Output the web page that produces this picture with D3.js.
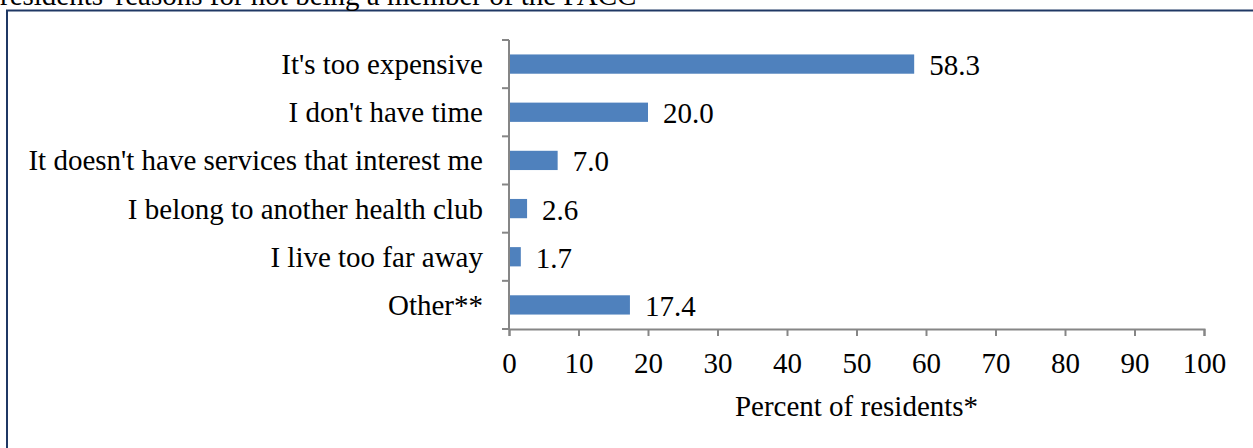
<!DOCTYPE html>
<html>
<head>
<meta charset="utf-8">
<script src="https://cdn.jsdelivr.net/npm/d3@7"></script>
<style>
  html, body { margin: 0; padding: 0; background: #fff; }
  svg { display: block; font-family: "Liberation Serif", "Times New Roman", serif; }
</style>
</head>
<body>
<svg id="chart" width="1253" height="448"></svg>
<script>
// Reasons residents gave for not being a PACC member
const categories = [
  "It's too expensive",
  "I don't have time",
  "It doesn't have services that interest me",
  "I belong to another health club",
  "I live too far away",
  "Other**"
];
const percents = [58.3, 20.0, 7.0, 2.6, 1.7, 17.4];
const xTicks = [0, 10, 20, 30, 40, 50, 60, 70, 80, 90, 100];
const titleText = "residents' reasons for not being a member of the PACC";
const axisTitle = "Percent of residents*";

const svg = d3.select("#chart");
const fontSize = 29;
const axisColor = "#868686";
const barColor = "#4F81BD";

const margin = { left: 509, right: 49, top: 40, bottom: 119 };
const W = 1253, H = 448;

const x = d3.scaleLinear().domain([0, 100]).range([margin.left, W - margin.right]);
const y = d3.scaleBand().domain(categories).range([margin.top, H - margin.bottom]).paddingInner(0.6).paddingOuter(0.3);

// frame around the chart area
svg.append("rect")
  .attr("x", 7).attr("y", 10.5)
  .attr("width", W + 20).attr("height", H + 20)
  .attr("fill", "none").attr("stroke", "#1F3864").attr("stroke-width", 2);

// heading line sitting above the frame
svg.append("text")
  .attr("x", 0).attr("y", 5)
  .attr("font-size", fontSize)
  .attr("fill", "#000")
  .text(titleText);

// bars
svg.selectAll("rect.bar")
  .data(categories)
  .join("rect")
  .attr("class", "bar")
  .attr("x", x(0))
  .attr("y", d => y(d))
  .attr("width", (d, i) => x(percents[i]) - x(0))
  .attr("height", y.bandwidth())
  .attr("fill", barColor);

// value labels
svg.selectAll("text.val")
  .data(categories)
  .join("text")
  .attr("class", "val")
  .attr("x", (d, i) => x(percents[i]) + 15)
  .attr("y", d => y(d) + y.bandwidth() / 2 + 11)
  .attr("font-size", fontSize)
  .attr("fill", "#000")
  .text((d, i) => percents[i].toFixed(1));

// x axis
const xAxis = svg.append("g")
  .attr("transform", `translate(0,${H - margin.bottom})`)
  .call(d3.axisBottom(x).tickValues(xTicks).tickSize(7).tickSizeOuter(7).tickPadding(16));
xAxis.select(".domain").attr("stroke", axisColor).attr("stroke-width", 2);
xAxis.selectAll(".tick line").attr("stroke", axisColor).attr("stroke-width", 2);
xAxis.selectAll(".tick text")
  .attr("font-family", "Liberation Serif, Times New Roman, serif")
  .attr("font-size", fontSize).attr("fill", "#000");

// y axis: tick marks between categories
const yAxisG = svg.append("g").attr("transform", `translate(${x(0)},0)`);
const bounds = d3.range(categories.length + 1).map(i => margin.top + i * (H - margin.bottom - margin.top) / categories.length);
yAxisG.append("line")
  .attr("x1", 0).attr("x2", 0)
  .attr("y1", bounds[0]).attr("y2", bounds[bounds.length - 1])
  .attr("stroke", axisColor).attr("stroke-width", 2);
yAxisG.selectAll("line.tk")
  .data(bounds)
  .join("line")
  .attr("class", "tk")
  .attr("x1", -7).attr("x2", 0)
  .attr("y1", d => d).attr("y2", d => d)
  .attr("stroke", axisColor).attr("stroke-width", 2);

// category labels
svg.selectAll("text.cat")
  .data(categories)
  .join("text")
  .attr("class", "cat")
  .attr("x", x(0) - 26)
  .attr("y", d => y(d) + y.bandwidth() / 2 + 10)
  .attr("text-anchor", "end")
  .attr("font-size", fontSize)
  .attr("fill", "#000")
  .text(d => d);

// axis title
svg.append("text")
  .attr("x", (x(0) + x(100)) / 2)
  .attr("y", 416)
  .attr("text-anchor", "middle")
  .attr("font-size", fontSize)
  .attr("fill", "#000")
  .text(axisTitle);
</script>
</body>
</html>
